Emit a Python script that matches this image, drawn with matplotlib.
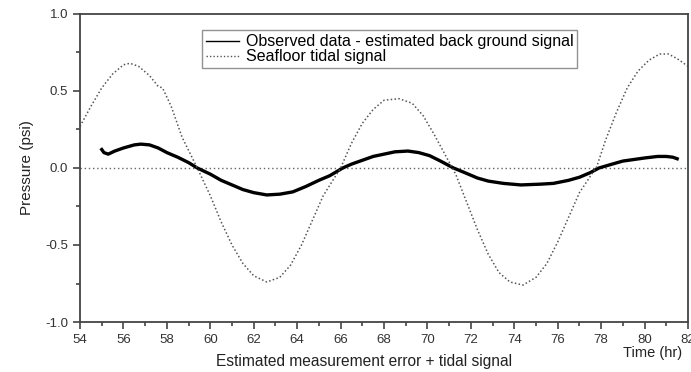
import numpy as np
import matplotlib.pyplot as plt

plt.rcParams['font.family'] = ['Liberation Sans', 'DejaVu Sans']

# Seafloor tidal signal (hr, psi)
tide_t = [54.0, 54.5, 55.0, 55.5, 56.0, 56.3, 56.7, 57.2, 57.6, 57.8, 58.2, 58.7,
          59.4, 60.0, 60.5, 61.0, 61.5, 62.0, 62.6, 63.2, 63.7, 64.2, 64.7, 65.2,
          66.0, 66.5, 67.0, 67.5, 68.0, 68.7, 69.3, 69.8, 70.3, 70.8, 71.3, 71.8,
          72.3, 72.8, 73.3, 73.8, 74.4, 75.0, 75.5, 76.0, 76.5, 77.0, 77.8, 78.2,
          78.7, 79.2, 79.7, 80.2, 80.7, 81.1, 81.5, 82.0]
tide_p = [0.27, 0.40, 0.52, 0.61, 0.67, 0.68, 0.66, 0.60, 0.53, 0.52, 0.40, 0.20,
          0.0, -0.18, -0.35, -0.50, -0.62, -0.70, -0.74, -0.71, -0.63, -0.50, -0.34, -0.18,
          0.0, 0.16, 0.29, 0.38, 0.44, 0.45, 0.42, 0.34, 0.22, 0.09, -0.04, -0.22,
          -0.40, -0.56, -0.68, -0.74, -0.76, -0.71, -0.62, -0.48, -0.32, -0.16, 0.01, 0.18,
          0.36, 0.52, 0.63, 0.70, 0.74, 0.74, 0.71, 0.66]

# Observed data - estimated background signal
obs_t = [55.0, 55.1, 55.3, 55.6, 56.0, 56.5, 56.8, 57.2, 57.6, 58.0, 58.5, 59.0,
         59.4, 60.0, 60.5, 61.0, 61.5, 62.0, 62.6, 63.2, 63.8, 64.4, 65.0, 65.5,
         66.1, 66.5, 67.0, 67.5, 68.0, 68.5, 69.1, 69.6, 70.1, 70.6, 71.2, 71.8,
         72.3, 72.8, 73.5, 74.3, 75.2, 75.8, 76.5, 77.0, 77.5, 77.9, 78.5, 79.0,
         79.5, 80.0, 80.6, 81.0, 81.3, 81.5]
obs_p = [0.12, 0.10, 0.09, 0.11, 0.13, 0.15, 0.155, 0.15, 0.13, 0.10, 0.07, 0.035,
         0.0, -0.04, -0.08, -0.11, -0.14, -0.16, -0.175, -0.17, -0.155, -0.12, -0.08, -0.05,
         0.0, 0.025, 0.05, 0.075, 0.09, 0.105, 0.11, 0.10, 0.08, 0.045, 0.0, -0.035,
         -0.065, -0.085, -0.10, -0.11, -0.105, -0.10, -0.08, -0.06, -0.03, 0.0, 0.025, 0.045,
         0.055, 0.065, 0.075, 0.075, 0.07, 0.06]

fig = plt.figure(figsize=(6.91, 3.72), dpi=100)
ax = fig.add_axes([0.1158, 0.1344, 0.8799, 0.828])

ax.axhline(0, color='#666666', lw=1.0, ls=(0, (1, 2)))
ax.plot(obs_t, obs_p, color='black', lw=2.4,
        label='Observed data - estimated back ground signal')
ax.plot(tide_t, tide_p, color='#555555', lw=1.1, ls=(0, (1, 1.5)),
        label='Seafloor tidal signal')

ax.set_xlim(54, 82)
ax.set_ylim(-1.0, 1.0)
ax.set_xticks(np.arange(54, 83, 2))
ax.set_xticks(np.arange(55, 82, 2), minor=True)
ax.set_yticks([-1.0, -0.5, 0.0, 0.5, 1.0])
ax.set_yticks([-0.75, -0.25, 0.25, 0.75], minor=True)
ax.yaxis.set_major_formatter(plt.FormatStrFormatter('%.1f'))

for s in ax.spines.values():
    s.set_color('#444444')
    s.set_linewidth(1.3)
ax.tick_params(which='both', direction='out', color='#444444', width=1.2,
               labelsize=9.5, labelcolor='#333333')
ax.tick_params(which='major', length=5)
ax.tick_params(which='minor', length=3)
ax.tick_params(top=False, right=False)

ax.set_ylabel('Pressure (psi)', fontsize=11, color='#222222', labelpad=8)
fig.text(0.945, 0.051, 'Time (hr)', fontsize=10.5, ha='center', va='center', color='#222222')
fig.text(0.527, 0.027, 'Estimated measurement error + tidal signal', fontsize=11.2,
         ha='center', va='center', color='#222222')

leg = ax.legend(loc='upper left', bbox_to_anchor=(0.200, 0.947), fontsize=11.5,
                frameon=True, fancybox=False, handlelength=2.1, borderpad=0.25,
                labelspacing=0.0, handletextpad=0.4, borderaxespad=0)
leg.get_frame().set_edgecolor('#777777')
leg.get_frame().set_linewidth(1.0)
for h in leg.get_lines():
    h.set_linewidth(1.0)

fig.savefig('out.png', dpi=100)
